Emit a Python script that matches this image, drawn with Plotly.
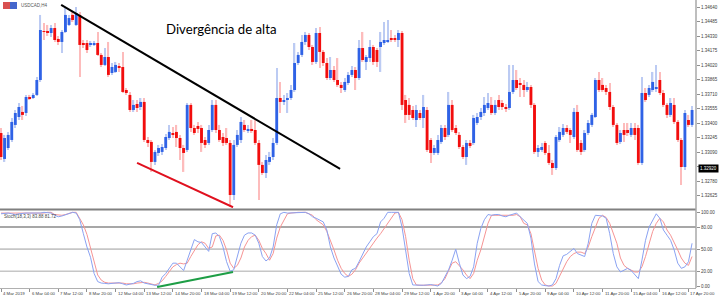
import plotly.graph_objects as go

# ---------------- data (USDCAD H4) ----------------
bars = list(range(194))

open_ = [1.33295, 1.33017, 1.33134, 1.33220, 1.33381, 1.33466, 1.33520, 1.33509, 1.33680, 1.33669,
         1.33702, 1.33862, 1.34386, 1.34376, 1.34365, 1.34418, 1.34301, 1.34269, 1.34376, 1.34451,
         1.34558, 1.34451, 1.34558, 1.34258, 1.34258, 1.34237, 1.34237, 1.34258, 1.34130, 1.34023,
         1.34108, 1.33937, 1.33948, 1.34012, 1.34001, 1.33755, 1.33702, 1.33541, 1.33605, 1.33573,
         1.33627, 1.33220, 1.33199, 1.32985, 1.33081, 1.33092, 1.33134, 1.33241, 1.33295, 1.33306,
         1.33241, 1.33134, 1.33113, 1.33595, 1.33348, 1.33370, 1.33348, 1.33220, 1.33188, 1.33327,
         1.33595, 1.33327, 1.33252, 1.33241, 1.33188, 1.32631, 1.33167, 1.33220, 1.33381, 1.33316,
         1.33338, 1.33327, 1.33188, 1.32953, 1.32867, 1.32985, 1.33038, 1.33188, 1.33669, 1.33627,
         1.33648, 1.33669, 1.33755, 1.34044, 1.34130, 1.34269, 1.34344, 1.34215, 1.34055, 1.34365,
         1.34162, 1.34044, 1.33883, 1.33969, 1.33862, 1.33809, 1.33755, 1.33830, 1.33916, 1.33969,
         1.33883, 1.34204, 1.34055, 1.34097, 1.34215, 1.34183, 1.34215, 1.34258, 1.34279, 1.34311,
         1.34311, 1.34290, 1.34365, 1.33648, 1.33595, 1.33541, 1.33434, 1.33509, 1.33455, 1.33541,
         1.33220, 1.33081, 1.33081, 1.33199, 1.33348, 1.33274, 1.33595, 1.33348, 1.33274, 1.33145,
         1.33038, 1.33188, 1.33188, 1.33402, 1.33466, 1.33509, 1.33562, 1.33595, 1.33509, 1.33648,
         1.33616, 1.33573, 1.33562, 1.33734, 1.33862, 1.33830, 1.33809, 1.33755, 1.33787, 1.33595,
         1.33092, 1.33113, 1.33188, 1.33081, 1.32974, 1.32920, 1.33220, 1.33274, 1.33348, 1.33327,
         1.33252, 1.33520, 1.33188, 1.33113, 1.33295, 1.33381, 1.33466, 1.33862, 1.33809, 1.33776,
         1.33734, 1.33573, 1.33381, 1.33199, 1.33327, 1.33327, 1.33274, 1.33348, 1.33348, 1.32974,
         1.33723, 1.33702, 1.33755, 1.33766, 1.33862, 1.33723, 1.33595, 1.33488, 1.33595, 1.33413,
         1.33220, 1.32931, 1.33434, 1.33381]

high = [1.33348, 1.33274, 1.33306, 1.33455, 1.33541, 1.33616, 1.33584, 1.33702, 1.33702, 1.33723,
        1.33894, 1.34558, 1.34472, 1.34451, 1.34451, 1.34472, 1.34333, 1.34397, 1.34643, 1.34558,
        1.34590, 1.34643, 1.34590, 1.34290, 1.34290, 1.34279, 1.34279, 1.34376, 1.34151, 1.34204,
        1.34269, 1.34044, 1.34055, 1.34044, 1.34162, 1.33776, 1.33734, 1.33648, 1.33648, 1.33669,
        1.33669, 1.33252, 1.33220, 1.33113, 1.33167, 1.33177, 1.33284, 1.33381, 1.33359, 1.33381,
        1.33274, 1.33167, 1.33616, 1.33616, 1.33381, 1.33413, 1.33381, 1.33252, 1.33381, 1.33648,
        1.33648, 1.33381, 1.33295, 1.33348, 1.33220, 1.33220, 1.33327, 1.33466, 1.33434, 1.33381,
        1.33434, 1.33434, 1.33220, 1.32985, 1.33060, 1.33092, 1.33241, 1.33990, 1.33841, 1.33702,
        1.33723, 1.33809, 1.34258, 1.34162, 1.34344, 1.34376, 1.34365, 1.34237, 1.34418, 1.34429,
        1.34183, 1.34097, 1.34108, 1.34012, 1.34097, 1.33841, 1.33883, 1.33948, 1.34012, 1.34001,
        1.34290, 1.34376, 1.34130, 1.34290, 1.34237, 1.34204, 1.34376, 1.34483, 1.34504, 1.34397,
        1.34344, 1.34397, 1.34386, 1.33702, 1.33669, 1.33584, 1.33595, 1.33541, 1.33702, 1.33573,
        1.33241, 1.33167, 1.33274, 1.33381, 1.33381, 1.33734, 1.33648, 1.33381, 1.33306, 1.33167,
        1.33220, 1.33220, 1.33488, 1.33509, 1.33562, 1.33680, 1.33723, 1.33680, 1.33648, 1.33702,
        1.33648, 1.33605, 1.34023, 1.34023, 1.33969, 1.33883, 1.33862, 1.33841, 1.33809, 1.33616,
        1.33167, 1.33188, 1.33209, 1.33167, 1.33006, 1.33274, 1.33359, 1.33391, 1.33381, 1.33348,
        1.33562, 1.33595, 1.33220, 1.33327, 1.33434, 1.33509, 1.33883, 1.33948, 1.33883, 1.33809,
        1.33830, 1.33595, 1.33402, 1.33327, 1.33402, 1.33402, 1.33402, 1.33402, 1.33381, 1.33894,
        1.33776, 1.33809, 1.33948, 1.34023, 1.33948, 1.33755, 1.33616, 1.33669, 1.33669, 1.33434,
        1.33241, 1.33541, 1.33488, 1.33584]

low = [1.33006, 1.32985, 1.33113, 1.33199, 1.33348, 1.33434, 1.33434, 1.33477, 1.33648, 1.33659,
       1.33691, 1.33841, 1.34290, 1.34333, 1.34322, 1.34269, 1.34237, 1.34151, 1.34365, 1.34440,
       1.34483, 1.34440, 1.33894, 1.34204, 1.34151, 1.34215, 1.34226, 1.34119, 1.34001, 1.34012,
       1.33894, 1.33916, 1.33937, 1.33948, 1.33723, 1.33702, 1.33520, 1.33520, 1.33520, 1.33541,
       1.33199, 1.33145, 1.32878, 1.32953, 1.33049, 1.33060, 1.33113, 1.33220, 1.33241, 1.33145,
       1.33006, 1.32878, 1.33092, 1.33306, 1.33274, 1.33295, 1.33092, 1.33134, 1.33167, 1.33306,
       1.33295, 1.33199, 1.33156, 1.33167, 1.32503, 1.32578, 1.33145, 1.33188, 1.33306, 1.33295,
       1.33295, 1.33167, 1.32578, 1.32846, 1.32813, 1.32953, 1.33006, 1.33167, 1.33509, 1.33595,
       1.33509, 1.33648, 1.33734, 1.34023, 1.34108, 1.34237, 1.34183, 1.34023, 1.34033, 1.33990,
       1.34012, 1.33862, 1.33862, 1.33841, 1.33787, 1.33723, 1.33734, 1.33809, 1.33894, 1.33755,
       1.33862, 1.34055, 1.33969, 1.34055, 1.34023, 1.34001, 1.33948, 1.34237, 1.34258, 1.34269,
       1.34269, 1.34215, 1.33541, 1.33402, 1.33434, 1.33434, 1.33359, 1.33434, 1.33348, 1.33092,
       1.32974, 1.33060, 1.33060, 1.33177, 1.33220, 1.33252, 1.33306, 1.33274, 1.33124, 1.33017,
       1.32953, 1.33134, 1.33167, 1.33381, 1.33434, 1.33477, 1.33541, 1.33488, 1.33488, 1.33541,
       1.33541, 1.33520, 1.33541, 1.33712, 1.33755, 1.33680, 1.33680, 1.33734, 1.33562, 1.33070,
       1.33038, 1.33092, 1.33060, 1.32953, 1.32846, 1.32899, 1.33199, 1.33252, 1.33284, 1.33188,
       1.33231, 1.33092, 1.33060, 1.33092, 1.33274, 1.33359, 1.33455, 1.33734, 1.33734, 1.33702,
       1.33541, 1.33359, 1.33167, 1.33177, 1.33199, 1.33263, 1.33252, 1.33220, 1.32953, 1.32953,
       1.33627, 1.33680, 1.33734, 1.33734, 1.33702, 1.33573, 1.33455, 1.33466, 1.33391, 1.33199,
       1.32739, 1.32899, 1.33359, 1.33359]

close = [1.33038, 1.33241, 1.33274, 1.33413, 1.33509, 1.33573, 1.33488, 1.33680, 1.33669, 1.33702,
         1.33862, 1.34397, 1.34376, 1.34365, 1.34418, 1.34290, 1.34269, 1.34376, 1.34558, 1.34525,
         1.34504, 1.34579, 1.34237, 1.34237, 1.34183, 1.34258, 1.34258, 1.34130, 1.34023, 1.34108,
         1.33916, 1.34001, 1.34023, 1.33990, 1.33734, 1.33723, 1.33541, 1.33595, 1.33562, 1.33627,
         1.33220, 1.33188, 1.32985, 1.33092, 1.33134, 1.33145, 1.33252, 1.33306, 1.33274, 1.33241,
         1.33134, 1.33081, 1.33595, 1.33348, 1.33295, 1.33338, 1.33188, 1.33167, 1.33327, 1.33595,
         1.33327, 1.33220, 1.33188, 1.33188, 1.32631, 1.33167, 1.33274, 1.33413, 1.33327, 1.33338,
         1.33316, 1.33188, 1.32953, 1.32867, 1.33006, 1.33038, 1.33188, 1.33669, 1.33627, 1.33648,
         1.33669, 1.33755, 1.34044, 1.34130, 1.34269, 1.34344, 1.34215, 1.34055, 1.34365, 1.34162,
         1.34044, 1.33883, 1.33969, 1.33862, 1.33809, 1.33776, 1.33841, 1.33916, 1.33969, 1.33883,
         1.34204, 1.34076, 1.34108, 1.34215, 1.34055, 1.34055, 1.34269, 1.34290, 1.34290, 1.34290,
         1.34290, 1.34365, 1.33595, 1.33488, 1.33488, 1.33455, 1.33541, 1.33455, 1.33573, 1.33113,
         1.33081, 1.33134, 1.33220, 1.33348, 1.33252, 1.33595, 1.33327, 1.33295, 1.33145, 1.33038,
         1.33188, 1.33156, 1.33455, 1.33466, 1.33520, 1.33595, 1.33616, 1.33509, 1.33595, 1.33573,
         1.33573, 1.33562, 1.33734, 1.33862, 1.33776, 1.33809, 1.33755, 1.33787, 1.33595, 1.33092,
         1.33134, 1.33145, 1.33081, 1.32974, 1.32920, 1.33252, 1.33306, 1.33348, 1.33306, 1.33274,
         1.33520, 1.33113, 1.33092, 1.33295, 1.33402, 1.33488, 1.33862, 1.33755, 1.33755, 1.33734,
         1.33573, 1.33381, 1.33188, 1.33295, 1.33274, 1.33295, 1.33348, 1.33274, 1.32974, 1.33723,
         1.33648, 1.33776, 1.33841, 1.33787, 1.33723, 1.33595, 1.33488, 1.33616, 1.33413, 1.33220,
         1.32931, 1.33509, 1.33381, 1.33541]

stoch_k = [98, 99, 99, 98, 97, 98, 99, 99, 99, 99, 98, 99, 100, 100, 99, 96, 94, 95, 97, 99, 100, 99,
           90, 71, 53, 39, 17, 6, 4, 3.6, 3, 3.6, 4, 4.5, 3, 1.4, 2.5, 3.6, 6, 7, 4, 2.7, 1.5, 1,
           1, 12, 17, 24, 31, 31, 26, 21, 35, 49, 63, 60, 59, 53, 47, 71, 72, 67, 53, 33, 20, 22, 40,
           58, 69, 72, 72, 69, 58, 40, 34, 38, 53, 83, 98, 100, 99, 99, 99, 100, 100, 100, 98, 94, 92, 90, 87,
           76, 53, 38, 26, 16, 12, 13, 22, 24, 33, 44, 53, 60, 67, 71, 87, 92, 100, 100, 100, 100,
           80, 49, 17, 1.4, 1, 1, 1, 1.4, 2, 1, 0, 3.6, 13, 22, 35, 50, 31, 15, 10, 13, 26, 58,
           78, 90, 97, 96, 97, 97, 95, 94, 96, 98, 99, 94, 90, 85, 65, 30, 6, 1.4, 0.5, 0, 1.4,
           10, 28, 41, 43, 47, 51, 44, 42, 40, 58, 85, 96, 96, 95, 92, 71, 44, 26, 19, 22, 24, 21, 15, 10,
           35, 62, 80, 90, 98, 92, 76, 69, 62, 49, 31, 24, 26, 33, 58]

stoch_d = [99, 99, 99, 99, 98, 98, 99, 99, 99, 99, 99, 99, 99, 100, 100, 97, 96, 96, 97, 99, 100, 100,
           92, 83, 70, 52, 33, 15, 8, 5, 4, 4, 4.5, 4, 4, 3, 2.5, 3, 4, 5, 5, 4, 2.5, 1.5,
           3.6, 7, 13, 19, 26, 29, 31, 30, 31, 40, 49, 56, 60, 58, 51, 53, 68, 69, 62, 49, 31, 24, 28,
           38, 53, 62, 67, 69, 62, 51, 44, 35, 44, 65, 80, 90, 98, 99, 100, 100, 100, 100, 98, 96, 90, 86, 83,
           74, 62, 49, 35, 24, 17, 13, 16, 22, 31, 38, 44, 51, 58, 65, 71, 78, 85, 92, 99, 100,
           90, 67, 35, 10, 1.4, 1, 1, 1.5, 1.5, 1.5, 1.4, 4.5, 10, 21, 31, 33, 28, 22, 15, 10, 17, 35,
           49, 67, 85, 96, 96, 96, 95, 95, 96, 96, 97, 94, 85, 83, 71, 49, 24, 8, 1.4, 0, 0,
           3.6, 13, 24, 33, 40, 44, 46, 46, 44, 53, 67, 80, 92, 96, 93, 85, 71, 58, 38, 28, 24, 21, 19, 19,
           26, 40, 58, 74, 85, 92, 87, 76, 69, 60, 49, 38, 31, 28, 40]

date_label_bars = [0, 8, 16, 24, 32, 40, 48, 56, 64, 72, 80, 88, 96, 104, 112, 120,
                   128, 136, 144, 152, 160, 168, 176, 184, 192]
date_labels = ["4 Mar 2019", "6 Mar 04:00", "7 Mar 12:00", "8 Mar 20:00", "12 Mar 04:00",
               "13 Mar 12:00", "14 Mar 20:00", "18 Mar 04:00", "19 Mar 12:00", "20 Mar 20:00",
               "22 Mar 04:00", "25 Mar 12:00", "26 Mar 20:00", "28 Mar 04:00", "29 Mar 12:00",
               "1 Apr 20:00", "3 Apr 04:00", "4 Apr 12:00", "5 Apr 20:00", "9 Apr 04:00",
               "10 Apr 12:00", "11 Apr 20:00", "15 Apr 04:00", "16 Apr 12:00", "17 Apr 20:00"]

price_ticks = [1.32625, 1.32780, 1.32935, 1.33090, 1.33245, 1.33400, 1.33555,
               1.33710, 1.33865, 1.34020, 1.34175, 1.34330, 1.34485, 1.34640]
stoch_ticks = [0, 20, 50, 80, 100]
stoch_levels = [20, 50, 80]
current_price = 1.32920

# hand-drawn analysis lines (bar index, value)
resist_bars, resist_prices = [16.8, 94.7], [1.34665, 1.32910]
lows_bars, lows_prices = [38.0, 64.8], [1.32974, 1.32500]
stoch_div_bars, stoch_div_values = [43.6, 64.8], [-1.4, 19.0]

# ---------------- styling ----------------
BLUE, RED = "#2f62e6", "#f20d0d"
PALE_BLUE, PALE_RED = "#bccbf3", "#fdbcbc"
FONT = "Liberation Sans"
X_RANGE = [-0.28, 194.1]

up = [c >= o for o, c in zip(open_, close)]

fig = go.Figure()

# wicks
fig.add_trace(go.Bar(
    x=bars, base=low, y=[h - l for h, l in zip(high, low)], width=0.38,
    marker=dict(color=[PALE_BLUE if u else PALE_RED for u in up], line=dict(width=0)),
    xaxis="x", yaxis="y", hoverinfo="skip", showlegend=False))
# bodies
fig.add_trace(go.Bar(
    x=bars, base=[min(o, c) for o, c in zip(open_, close)],
    y=[max(abs(c - o), 0.00006) for o, c in zip(open_, close)], width=0.8,
    marker=dict(color=[BLUE if u else RED for u in up], line=dict(width=0)),
    xaxis="x", yaxis="y", showlegend=False))

# trend lines
fig.add_trace(go.Scatter(x=resist_bars, y=resist_prices, mode="lines",
                         line=dict(color="black", width=2), xaxis="x", yaxis="y", showlegend=False))
fig.add_trace(go.Scatter(x=lows_bars, y=lows_prices, mode="lines",
                         line=dict(color="#e0101e", width=2), xaxis="x", yaxis="y", showlegend=False))

# stochastic level lines
for lv in stoch_levels:
    fig.add_trace(go.Scatter(x=X_RANGE, y=[lv, lv], mode="lines",
                             line=dict(color="#8a8a8a" if lv == 80 else "#c6c6c6", width=1.6),
                             xaxis="x2", yaxis="y2", showlegend=False, hoverinfo="skip"))

fig.add_trace(go.Scatter(x=bars, y=stoch_d, mode="lines", line=dict(color="#f69494", width=1),
                         xaxis="x2", yaxis="y2", showlegend=False))
fig.add_trace(go.Scatter(x=bars, y=stoch_k, mode="lines", line=dict(color="#8aa2f2", width=1),
                         xaxis="x2", yaxis="y2", showlegend=False))
fig.add_trace(go.Scatter(x=stoch_div_bars, y=stoch_div_values, mode="lines",
                         line=dict(color="#1e9e46", width=2), xaxis="x2", yaxis="y2",
                         showlegend=False))

tickfont = dict(family=FONT, size=4.5, color="#3c3c3c")
# the 1.32935 label sits under the current-price box, so it is left blank
price_ticktext = ["" if abs(v - 1.32935) < 1e-9 else f"{v:.5f}" for v in price_ticks]

fig.update_layout(
    width=720, height=298,
    margin=dict(l=0, r=24, t=0, b=10),
    paper_bgcolor="white", plot_bgcolor="white",
    barmode="overlay", showlegend=False,
    xaxis=dict(domain=[0, 1], range=X_RANGE, anchor="y", showticklabels=False,
               showgrid=False, zeroline=False, showline=False, ticks=""),
    yaxis=dict(domain=[1 - 208 / 288, 1], range=[1.32492, 1.34718], side="right",
               tickvals=price_ticks, ticktext=price_ticktext,
               ticks="outside", ticklen=3, tickcolor="#909090", tickfont=tickfont,
               showgrid=False, zeroline=False, showline=False),
    xaxis2=dict(domain=[0, 1], range=X_RANGE, anchor="y2", matches="x",
                tickvals=date_label_bars, ticks="outside", ticklen=3, tickcolor="#909090",
                showticklabels=False, showgrid=False, zeroline=False,
                showline=True, linecolor="#b0b0b0", linewidth=1),
    yaxis2=dict(domain=[0, 77 / 288], range=[-2.7, 101.8], side="right",
                tickvals=stoch_ticks, ticktext=[f"{v:.2f}" for v in stoch_ticks],
                ticks="outside", ticklen=3, tickcolor="#909090", tickfont=tickfont,
                showgrid=False, zeroline=False, showline=False),
)

# panel separator and right axis line
fig.add_shape(type="line", xref="paper", yref="paper", x0=0, x1=1,
              y0=(288 - 209.5) / 288, y1=(288 - 209.5) / 288,
              line=dict(color="#808080", width=2))
fig.add_shape(type="line", xref="paper", yref="paper", x0=1, x1=1, y0=0, y1=1,
              line=dict(color="#a8a8a8", width=1.5))

# MT4 symbol icon
fig.add_shape(type="rect", xref="paper", yref="paper", x0=3 / 696, x1=10 / 696,
              y0=(288 - 9) / 288, y1=(288 - 2) / 288, line=dict(width=0), fillcolor="#d85050")
fig.add_shape(type="rect", xref="paper", yref="paper", x0=10 / 696, x1=17 / 696,
              y0=(288 - 9) / 288, y1=(288 - 2) / 288, line=dict(width=0), fillcolor="#4466cc")

annotations = [
    dict(text="USDCAD,H4", x=19 / 696, y=(288 - 5) / 288, xref="paper", yref="paper",
         xanchor="left", yanchor="middle", showarrow=False, font=dict(family=FONT, size=4.5, color="#555")),
    dict(text="Divergência de alta", x=164 / 696, y=(288 - 29) / 288, xref="paper", yref="paper",
         xanchor="left", yanchor="middle", showarrow=False,
         font=dict(family="Lato", size=13.2, color="black")),
    dict(text="Stoch(18,3,3) 83.88 81.72", x=2 / 696, y=(288 - 216) / 288, xref="paper", yref="paper",
         xanchor="left", yanchor="middle", showarrow=False, font=dict(family=FONT, size=4.5, color="#444")),
    dict(text=f"{current_price:.5f}", x=1.003, y=current_price, xref="paper", yref="y",
         xanchor="left", yanchor="middle", showarrow=False, bgcolor="black", borderpad=1,
         font=dict(family=FONT, size=4.5, color="white")),
]
for b, t in zip(date_label_bars, date_labels):
    annotations.append(dict(text=t, x=b, y=-5 / 288, xref="x2", yref="paper",
                            xanchor="left", yanchor="middle", showarrow=False, xshift=0,
                            font=dict(family=FONT, size=4.3, color="#3c3c3c")))
fig.update_layout(annotations=annotations)

fig.write_html("out.html")
